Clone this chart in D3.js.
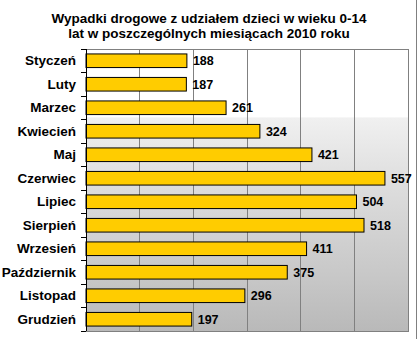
<!DOCTYPE html>
<html><head><meta charset="utf-8">
<script src="https://cdn.jsdelivr.net/npm/d3@7"></script>
<style>
html,body{margin:0;padding:0;background:#fff;}
svg{display:block;}
text{font-family:"Liberation Sans",Arial,sans-serif;font-weight:bold;fill:#000;}
</style></head>
<body>
<script>
const categories = ["Styczeń","Luty","Marzec","Kwiecień","Maj","Czerwiec","Lipiec","Sierpień","Wrzesień","Październik","Listopad","Grudzień"];
const values = [188,187,261,324,421,557,504,518,411,375,296,197];
const xTicks = [0,100,200,300,400,500,600];
const titleLines = ["Wypadki drogowe z udziałem dzieci w wieku 0-14","lat w poszczególnych miesiącach 2010 roku"];

const W=418,H=339;
const m={l:86,r:408,t:49,b:331};
const svg=d3.select("body").append("svg").attr("width",W).attr("height",H);

const defs=svg.append("defs");
const g=defs.append("linearGradient").attr("id","bg").attr("x1",0).attr("y1",0).attr("x2",0).attr("y2",1);
[[0,"#ffffff"],[0.24,"#ffffff"],[0.245,"#f0f0f0"],[0.5,"#dcdcdc"],[0.8,"#c8c8c8"],[1,"#b9b9b9"]].forEach(s=>g.append("stop").attr("offset",s[0]).attr("stop-color",s[1]));

const x=d3.scaleLinear().domain([0,600]).range([m.l,m.r]);
const y=d3.scaleBand().domain(categories).range([m.t,m.b]).paddingInner(0.42).paddingOuter(0.21);

svg.append("rect").attr("x",m.l).attr("y",m.t).attr("width",m.r-m.l).attr("height",m.b-m.t).attr("fill","url(#bg)");

// gridlines
svg.append("g").selectAll("line").data(xTicks.slice(1)).join("line")
  .attr("x1",d=>x(d)).attr("x2",d=>x(d)).attr("y1",m.t).attr("y2",m.b)
  .attr("stroke","#808080").attr("stroke-width",1).attr("shape-rendering","crispEdges");
// plot border
svg.append("rect").attr("x",m.l).attr("y",m.t).attr("width",m.r-m.l).attr("height",m.b-m.t)
  .attr("fill","none").attr("stroke","#808080").attr("shape-rendering","crispEdges");

// bars
svg.append("g").selectAll("rect").data(values).join("rect")
  .attr("x",x(0)).attr("y",(d,i)=>y(categories[i]))
  .attr("width",d=>x(d)-x(0)).attr("height",y.bandwidth())
  .attr("fill","#ffcc00").attr("stroke","#000").attr("stroke-width",1);

// value labels
svg.append("g").selectAll("text").data(values).join("text")
  .attr("x",d=>x(d)+6).attr("y",(d,i)=>y(categories[i])+y.bandwidth()/2)
  .attr("dy","0.35em").attr("font-size",12.5).text(d=>d);

// y axis
const ax=svg.append("g").attr("transform",`translate(${m.l},0)`)
  .call(d3.axisLeft(y).tickSize(0).tickPadding(10));
ax.select(".domain").remove();
ax.selectAll("text").attr("font-size",13.5).attr("font-family","Liberation Sans, Arial, sans-serif").attr("font-weight","bold").attr("fill","#000");
svg.append("line").attr("x1",m.l).attr("x2",m.l).attr("y1",m.t).attr("y2",m.b).attr("stroke","#000").attr("shape-rendering","crispEdges");
const bounds=categories.map(c=>y(c)-y.step()*y.paddingInner()/2).concat([m.b]);
svg.append("g").selectAll("line").data(bounds).join("line")
  .attr("x1",m.l-5).attr("x2",m.l).attr("y1",d=>d).attr("y2",d=>d)
  .attr("stroke","#000").attr("shape-rendering","crispEdges");

// title
svg.append("g").selectAll("text").data(titleLines).join("text")
  .attr("x",209).attr("y",(d,i)=>23+i*15).attr("text-anchor","middle").attr("font-size",13.5).text(d=>d);

// right outer border
svg.append("line").attr("x1",416.5).attr("x2",416.5).attr("y1",0).attr("y2",H).attr("stroke","#808080");
</script>
</body></html>
